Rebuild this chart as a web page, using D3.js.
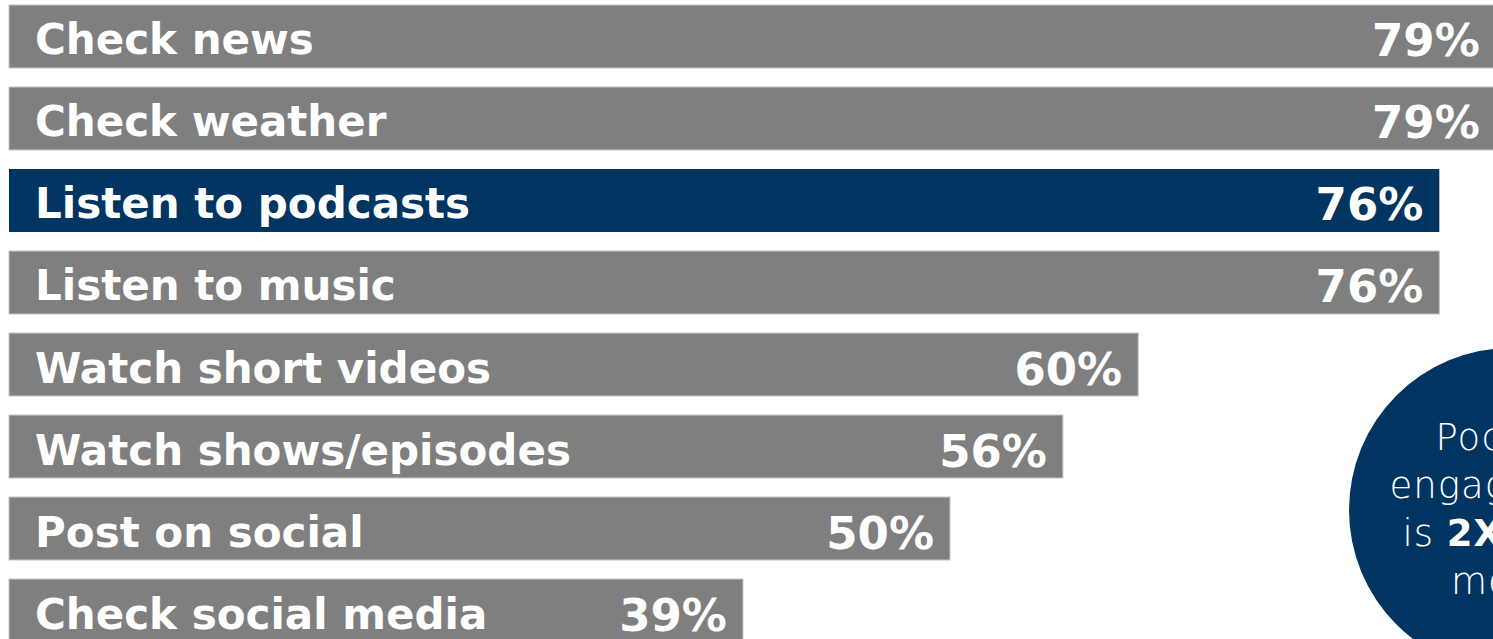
<!doctype html>
<html>
<head>
<meta charset="utf-8">
<style>
  html, body { margin: 0; padding: 0; background: #fff; overflow: hidden; }
  .lbl { font-family: "DejaVu Sans", sans-serif; font-weight: bold; fill: #fff; }
  .note { font-family: "DejaVu Sans", sans-serif; font-weight: 200; fill: #fff; }
</style>
<script src="https://d3js.org/d3.v7.min.js"></script>
</head>
<body>
<svg width="1493" height="639"></svg>
<script>
  // activities, share of respondents (%)
  var categories = ["Check news", "Check weather", "Listen to podcasts", "Listen to music",
                    "Watch short videos", "Watch shows/episodes", "Post on social", "Check social media"];
  var values = [79, 79, 76, 76, 60, 56, 50, 39];
  var highlight = "Listen to podcasts";
  var noteLines = ["Podcast", "engagement", "is 2X other", "media"];

  var svg = d3.select("svg");

  var x = d3.scaleLinear().domain([0, 100]).range([9, 1891]);
  var y = d3.scaleBand().domain(categories).range([5, 642]).paddingInner(0.232).paddingOuter(0);

  var data = categories.map(function(c, i) { return { name: c, value: values[i] }; });

  var g = svg.append("g");

  g.selectAll(".bar")
    .data(data)
    .enter().append("rect")
    .attr("class", "bar")
    .attr("x", x(0))
    .attr("y", function(d) { return y(d.name); })
    .attr("width", function(d) { return x(d.value) - x(0); })
    .attr("height", y.bandwidth())
    .attr("fill", function(d) { return d.name == highlight ? "#003562" : "#7f7f7f"; })
    .attr("stroke", function(d) { return d.name == highlight ? "none" : "#c4c4c4"; })
    .attr("stroke-width", 1);

  g.selectAll(".name")
    .data(data)
    .enter().append("text")
    .attr("class", "lbl")
    .attr("x", 35)
    .attr("y", function(d) { return y(d.name) + y.bandwidth() / 2 + 18; })
    .attr("font-size", "42px")
    .text(function(d) { return d.name; });

  g.selectAll(".val")
    .data(data)
    .enter().append("text")
    .attr("class", "lbl")
    .attr("x", function(d) { return x(d.value) - 16; })
    .attr("y", function(d) { return y(d.name) + y.bandwidth() / 2 + 20; })
    .attr("text-anchor", "end")
    .attr("font-size", "45px")
    .text(function(d) { return d.value + "%"; });

  // callout bubble on the right edge
  var cx = 1511, cy = 510, r = 162;
  svg.append("circle")
    .attr("cx", cx).attr("cy", cy).attr("r", r)
    .attr("fill", "#003562");

  var note = svg.append("text")
    .attr("class", "note")
    .attr("text-anchor", "middle")
    .attr("font-size", "37px")
    .attr("letter-spacing", "1px");

  noteLines.forEach(function(line, i) {
    var t = note.append("tspan").attr("x", cx).attr("y", 450 + i * 48);
    if (line.indexOf("2X") >= 0) {
      t.append("tspan").text("is ");
      t.append("tspan").attr("font-weight", "bold").text("2X");
      t.append("tspan").text(line.replace("is 2X", ""));
    } else {
      t.text(line);
    }
  });
</script>
</body>
</html>
